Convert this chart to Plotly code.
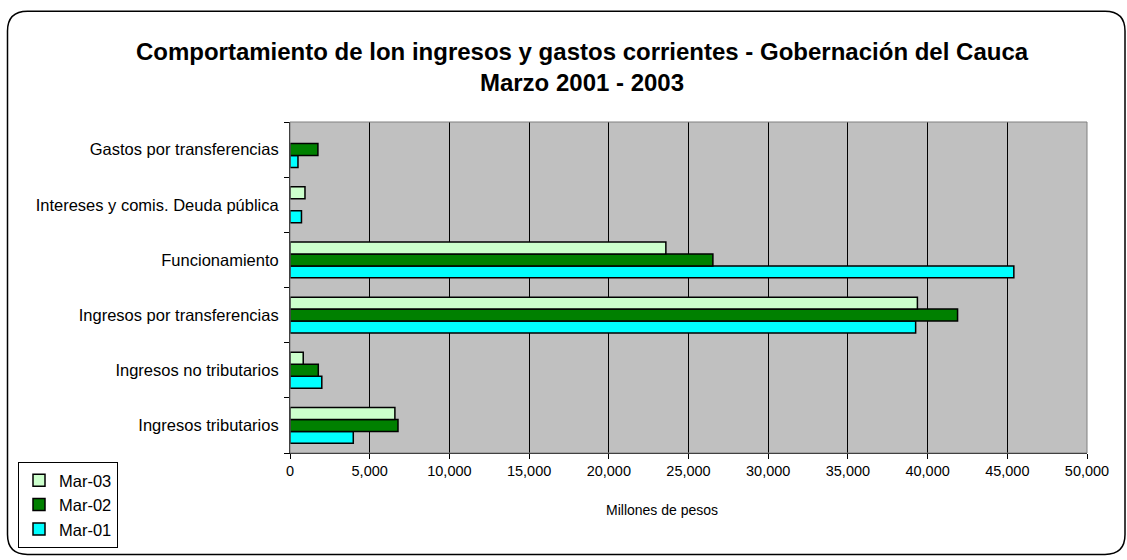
import plotly.graph_objects as go

categories = [
    "Ingresos tributarios",
    "Ingresos no tributarios",
    "Ingresos por transferencias",
    "Funcionamiento",
    "Intereses y comis. Deuda pública",
    "Gastos por transferencias",
]
mar01 = [3970, 1995, 39250, 45410, 720, 500]
mar02 = [6775, 1775, 41880, 26530, None, 1750]
mar03 = [6580, 830, 39360, 23580, 940, None]

series = [("Mar-01", mar01, "#00FFFF"), ("Mar-02", mar02, "#008000"), ("Mar-03", mar03, "#CCFFCC")]
x_ticks = list(range(0, 50001, 5000))

W, H = 1127, 560
L, R, T, B = 290, 1087, 122, 455


def px(x):
    return (x - L) / (R - L)


def py(y):
    return (B - y) / (B - T)


fig = go.Figure()
for name, vals, color in series:
    fig.add_trace(go.Bar(
        y=categories, x=vals, name=name, orientation="h",
        marker=dict(color=color, line=dict(color="black", width=1.5)),
    ))

# rounded chart border
x0, y0, x1, y1, r = 7.5, 10.5, 1125, 557, 20
path = (
    f"M {px(x0 + r)},{py(y0)} L {px(x1 - r)},{py(y0)} "
    f"Q {px(x1)},{py(y0)} {px(x1)},{py(y0 + r)} "
    f"L {px(x1)},{py(y1 - r)} Q {px(x1)},{py(y1)} {px(x1 - r)},{py(y1)} "
    f"L {px(x0 + r)},{py(y1)} Q {px(x0)},{py(y1)} {px(x0)},{py(y1 - r)} "
    f"L {px(x0)},{py(y0 + r)} Q {px(x0)},{py(y0)} {px(x0 + r)},{py(y0)} Z"
)

FONT = "Liberation Sans, Arial, sans-serif"

fig.update_layout(
    width=W, height=H,
    margin=dict(l=L, r=W - R, t=T, b=H - B, pad=0),
    paper_bgcolor="white",
    plot_bgcolor="#C0C0C0",
    barmode="group",
    bargap=0.35,
    bargroupgap=0,
    font=dict(family=FONT, size=16, color="black"),
    title=dict(
        text="<b>Comportamiento de lon ingresos y gastos corrientes - Gobernación del Cauca<br>Marzo 2001 - 2003</b>",
        x=582 / W, xanchor="center", y=1 - 60 / H, yanchor="middle",
        font=dict(size=24, family=FONT, color="black"),
    ),
    xaxis=dict(
        range=[0, 50000], tickvals=x_ticks, tickformat=",",
        tickfont=dict(size=14.5), ticklabeloverflow="allow",
        showgrid=True, gridcolor="black", gridwidth=1,
        showline=True, linecolor="black", linewidth=1,
        ticks="outside", ticklen=5, tickcolor="black",
        zeroline=False, fixedrange=True,
    ),
    yaxis=dict(
        categoryorder="array", categoryarray=categories,
        tickfont=dict(size=16.5),
        showgrid=False, showline=True, linecolor="black", linewidth=1,
        ticks="outside", ticklen=5, tickcolor="black", tickson="boundaries",
        ticklabelstandoff=7,
    ),
    legend=dict(
        x=px(18), y=py(464), xanchor="left", yanchor="top",
        bordercolor="black", borderwidth=1, bgcolor="white",
        traceorder="reversed", itemwidth=30,
        font=dict(size=16.5),
    ),
    annotations=[dict(
        text="Millones de pesos", x=px(662), y=py(512), xref="paper", yref="paper",
        showarrow=False, font=dict(size=14), xanchor="center", yanchor="middle",
    )],
    shapes=[
        dict(type="path", path=path, xref="paper", yref="paper",
             line=dict(color="black", width=1.5), layer="below"),
        dict(type="rect", x0=0, x1=1, y0=0, y1=1, xref="paper", yref="paper",
             line=dict(color="#808080", width=1), layer="above"),
    ],
)

fig.write_html("out.html", config={"displayModeBar": False},
               post_script="document.body.style.margin='0';")
